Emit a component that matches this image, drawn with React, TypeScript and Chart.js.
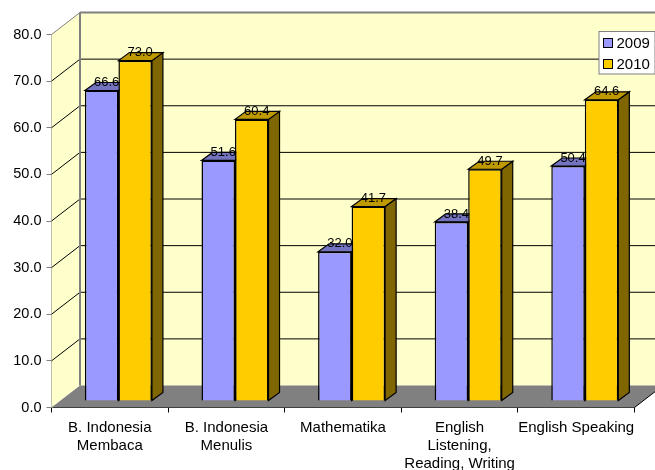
import React, { useEffect, useRef } from "react";
import { Chart, registerables } from "chart.js";

Chart.register(...registerables);

const categories = [
  ["B. Indonesia", "Membaca"],
  ["B. Indonesia", "Menulis"],
  "Mathematika",
  ["English", "Listening,", "Reading, Writing"],
  "English Speaking",
];
const values2009 = [66.6, 51.6, 32.0, 38.4, 50.4];
const values2010 = [73.0, 60.4, 41.7, 49.7, 64.6];

const FONT = "'Liberation Sans', Arial, sans-serif";
const WALL_DX = 28.5;
const WALL_DY = 22;
const BAR_DX = 8.6;
const BAR_DY = 6.5;
const SIDE_DX = 11;
const SIDE_DY = 8;

const shades: Record<string, { top: string; side: string }> = {
  "2009": { top: "#7373BF", side: "#4D4D80" },
  "2010": { top: "#BF9900", side: "#806600" },
};

function poly(ctx: CanvasRenderingContext2D, pts: number[][], fill?: string, stroke?: string, lw = 1) {
  ctx.beginPath();
  pts.forEach((p, i) => (i ? ctx.lineTo(p[0], p[1]) : ctx.moveTo(p[0], p[1])));
  ctx.closePath();
  if (fill) {
    ctx.fillStyle = fill;
    ctx.fill();
  }
  if (stroke) {
    ctx.strokeStyle = stroke;
    ctx.lineWidth = lw;
    ctx.stroke();
  }
}

function line(ctx: CanvasRenderingContext2D, x1: number, y1: number, x2: number, y2: number, color: string, lw = 1) {
  ctx.beginPath();
  ctx.moveTo(x1, y1);
  ctx.lineTo(x2, y2);
  ctx.strokeStyle = color;
  ctx.lineWidth = lw;
  ctx.stroke();
}

const threeD = {
  id: "threeD",
  beforeDatasetsDraw(chart: any) {
    const { ctx, chartArea: a, scales } = chart;
    const y = scales.y;
    const L = a.left, R = a.right, T = a.top, B = a.bottom;
    const bx = L + WALL_DX;
    const ex = R + WALL_DX;
    ctx.save();
    poly(ctx, [[bx, T - WALL_DY], [ex, T - WALL_DY], [ex, B - WALL_DY], [bx, B - WALL_DY]], "#FFFFCC");
    poly(ctx, [[L, T], [bx, T - WALL_DY], [bx, B - WALL_DY], [L, B]], "#FFFFCC");
    poly(ctx, [[L, B], [bx, B - WALL_DY], [ex, B - WALL_DY], [R, B]], "#808080");
    y.ticks.forEach((t: any) => {
      if (t.value === 0 || t.value === 80) return;
      const py = y.getPixelForValue(t.value);
      line(ctx, L, py, bx, py - WALL_DY, "#000000");
      line(ctx, bx, py - WALL_DY, ex, py - WALL_DY, "#000000");
    });
    line(ctx, L, T, bx, T - WALL_DY, "#808080", 1);
    line(ctx, bx, T - WALL_DY, ex, T - WALL_DY, "#808080", 2);
    line(ctx, bx, T - WALL_DY, bx, B - WALL_DY, "#808080", 2);
    line(ctx, R, B, ex, B - WALL_DY, "#000000");
    ctx.restore();
  },
  // native per-dataset drawing is skipped so that 2009 can be painted before 2010
  beforeDatasetDraw() {
    return false;
  },
  afterDatasetsDraw(chart: any) {
    const { ctx } = chart;
    chart.data.datasets.forEach((ds: any, i: number) => {
      const meta = chart.getDatasetMeta(i);
      const c = shades[ds.label];
      ctx.save();
      ctx.translate(BAR_DX, -BAR_DY);
      meta.data.forEach((el: any) => {
        const p = el.getProps(["x", "y", "base", "width"], true);
        const l = p.x - p.width / 2;
        const r = p.x + p.width / 2;
        poly(ctx, [[r, p.y], [r + SIDE_DX, p.y - SIDE_DY], [r + SIDE_DX, p.base - SIDE_DY], [r, p.base]], c.side, "#000000", 1.2);
        poly(ctx, [[l, p.y], [l + SIDE_DX, p.y - SIDE_DY], [r + SIDE_DX, p.y - SIDE_DY], [r, p.y]], c.top, "#000000", 1.2);
      });
      meta.controller.draw();
      ctx.restore();
    });
    ctx.save();
    ctx.font = `13px ${FONT}`;
    ctx.fillStyle = "#000000";
    ctx.textAlign = "center";
    ctx.textBaseline = "middle";
    chart.data.datasets.forEach((ds: any, i: number) => {
      chart.getDatasetMeta(i).data.forEach((el: any, j: number) => {
        const p = el.getProps(["x", "y"], true);
        ctx.fillText(ds.data[j].toFixed(1), p.x + BAR_DX + 5, p.y - BAR_DY - 8);
      });
    });
    ctx.restore();
  },
  afterDraw(chart: any) {
    const { ctx } = chart;
    ctx.save();
    ctx.fillStyle = "#FFFFFF";
    ctx.fillRect(599, 31.5, 56, 42.5);
    ctx.strokeStyle = "#808080";
    ctx.lineWidth = 1;
    ctx.strokeRect(599, 31.5, 56, 42.5);
    ctx.font = `15px ${FONT}`;
    ctx.textAlign = "left";
    ctx.textBaseline = "middle";
    chart.data.datasets.forEach((ds: any, i: number) => {
      const y = 38.5 + i * 21;
      ctx.fillStyle = ds.backgroundColor;
      ctx.fillRect(603.5, y, 9, 9);
      ctx.strokeStyle = "#000000";
      ctx.strokeRect(603.5, y, 9, 9);
      ctx.fillStyle = "#000000";
      ctx.fillText(ds.label, 616.5, y + 5);
    });
    ctx.restore();
  },
};

export default function App() {
  const ref = useRef<HTMLCanvasElement>(null);
  useEffect(() => {
    const chart = new Chart(ref.current!, {
      type: "bar",
      data: {
        labels: categories as any,
        datasets: [
          { label: "2009", data: values2009, backgroundColor: "#9999FF", borderColor: "#000000", borderWidth: 1.5, clip: false as any },
          { label: "2010", data: values2010, backgroundColor: "#FFCC00", borderColor: "#000000", borderWidth: 1.5, clip: false as any },
        ],
      },
      options: {
        animation: false,
        responsive: false,
        devicePixelRatio: 1,
        categoryPercentage: 0.575,
        barPercentage: 1,
        layout: { padding: { top: 34.5, right: 20.5, left: 0, bottom: 0 } },
        plugins: { legend: { display: false }, tooltip: { enabled: false }, title: { display: false } },
        scales: {
          x: {
            grid: { drawOnChartArea: false, drawTicks: true, tickLength: 5, color: "#000000", offset: true },
            border: { color: "#000000", width: 1 },
            ticks: {
              color: "#000000",
              padding: 6,
              autoSkip: false,
              maxRotation: 0,
              minRotation: 0,
              font: { family: FONT, size: 15, lineHeight: 1.2 },
            },
            afterFit: (s: any) => {
              s.height = 62.5;
            },
          },
          y: {
            min: 0,
            max: 80,
            grid: { drawOnChartArea: false, drawTicks: true, tickLength: 5, color: "#808080" },
            border: { color: "#808080", width: 2 },
            ticks: {
              stepSize: 10,
              color: "#000000",
              padding: 5,
              font: { family: FONT, size: 14.5 },
              callback: (v: any) => Number(v).toFixed(1),
            },
            afterFit: (s: any) => {
              s.width = 51.5;
            },
          },
        },
      },
      plugins: [threeD],
    } as any);
    return () => chart.destroy();
  }, []);
  return (
    <div style={{ position: "absolute", left: 0, top: 0, width: 655, height: 470, background: "#FFFFFF" }}>
      <canvas ref={ref} width={655} height={470} style={{ display: "block", width: 655, height: 470 }} />
    </div>
  );
}
